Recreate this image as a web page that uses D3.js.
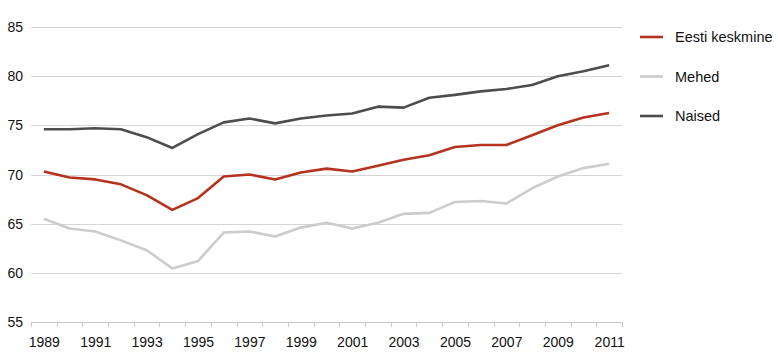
<!DOCTYPE html>
<html>
<head>
<meta charset="utf-8">
<script src="https://cdn.jsdelivr.net/npm/d3@7"></script>
<style>
  body { margin: 0; background: #fff; }
  svg text { font-family: "Liberation Sans", Arial, sans-serif; fill: #111; }
</style>
</head>
<body>
<svg id="chart" width="778" height="363"></svg>
<script>
// years on the category axis
var years = d3.range(1989, 2012);

// tick labels shown (every other year)
var yearLabels = [1989, 1991, 1993, 1995, 1997, 1999, 2001, 2003, 2005, 2007, 2009, 2011];

var yTicks = [55, 60, 65, 70, 75, 80, 85];

// life expectancy values
var eestiKeskmine = [70.3, 69.7, 69.5, 69.0, 67.9, 66.4, 67.6, 69.8, 70.0, 69.5, 70.2, 70.6,
                     70.3, 70.9, 71.5, 71.95, 72.8, 73.0, 73.0, 74.0, 75.0, 75.8, 76.25];
var mehed = [65.5, 64.5, 64.2, 63.3, 62.3, 60.45, 61.2, 64.1, 64.2, 63.7, 64.6, 65.1,
             64.5, 65.1, 66.0, 66.1, 67.2, 67.3, 67.05, 68.6, 69.8, 70.65, 71.1];
var naised = [74.6, 74.6, 74.7, 74.6, 73.8, 72.7, 74.1, 75.3, 75.7, 75.2, 75.7, 76.0,
              76.2, 76.9, 76.8, 77.8, 78.1, 78.45, 78.7, 79.1, 80.0, 80.5, 81.1];

var seriesNames = ["Eesti keskmine", "Mehed", "Naised"];
var seriesColours = ["#b5321f", "#cccccc", "#4d4d4d"];
var seriesData = [eestiKeskmine, mehed, naised];

(function(){
    var svg = d3.select("#chart");
    var left = 31, right = 622, top = 27, bottom = 322;

    var x = d3.scaleBand()
        .domain(years)
        .range([left, right]);

    var y = d3.scaleLinear()
        .domain([55, 85])
        .range([bottom, top]);

    // horizontal gridlines
    svg.append("g").selectAll("line")
        .data(yTicks.filter(function(d) { return d > 55; }))
        .enter().append("line")
        .attr("x1", left)
        .attr("x2", right)
        .attr("y1", function(d) { return Math.round(y(d)) + 0.5; })
        .attr("y2", function(d) { return Math.round(y(d)) + 0.5; })
        .style("stroke", "#d6d6d6")
        .style("stroke-width", 1);

    // y labels
    svg.append("g").selectAll("text")
        .data(yTicks)
        .enter().append("text")
        .attr("x", 23)
        .attr("y", function(d) { return y(d) + 5; })
        .attr("text-anchor", "end")
        .style("font-size", "14px")
        .text(function(d) { return d; });

    // x axis line and ticks on band edges
    svg.append("line")
        .attr("x1", left).attr("x2", right)
        .attr("y1", bottom + 0.5).attr("y2", bottom + 0.5)
        .style("stroke", "#c8c8c8");

    var edges = years.map(function(d) { return x(d); }).concat([right]);
    svg.append("g").selectAll("line")
        .data(edges)
        .enter().append("line")
        .attr("x1", function(d) { return Math.round(d) + 0.5; })
        .attr("x2", function(d) { return Math.round(d) + 0.5; })
        .attr("y1", bottom)
        .attr("y2", bottom + 5)
        .style("stroke", "#c8c8c8");

    svg.append("g").selectAll("text")
        .data(yearLabels)
        .enter().append("text")
        .attr("x", function(d) { return x(d) + x.bandwidth() / 2 + 0.5; })
        .attr("y", 347)
        .attr("text-anchor", "middle")
        .style("font-size", "14px")
        .text(function(d) { return d; });

    // series lines
    var line = d3.line()
        .x(function(d, i) { return x(years[i]) + x.bandwidth() / 2; })
        .y(function(d) { return y(d); });

    seriesData.forEach(function(values, i) {
        svg.append("path")
            .datum(values)
            .attr("d", line)
            .style("fill", "none")
            .style("stroke", seriesColours[i])
            .style("stroke-width", 2.6)
            .style("stroke-linejoin", "round");
    });

    // legend
    var legend = svg.append("g").selectAll("g")
        .data(seriesNames)
        .enter().append("g")
        .attr("transform", function(d, i) { return "translate(640," + (37 + i * 39.5) + ")"; });

    legend.append("line")
        .attr("x1", 0).attr("x2", 23)
        .attr("y1", 0).attr("y2", 0)
        .style("stroke", function(d, i) { return seriesColours[i]; })
        .style("stroke-width", 2.6);

    legend.append("text")
        .attr("x", 35)
        .attr("y", 5)
        .style("font-size", "14.5px")
        .text(function(d) { return d; });
}());
</script>
</body>
</html>
